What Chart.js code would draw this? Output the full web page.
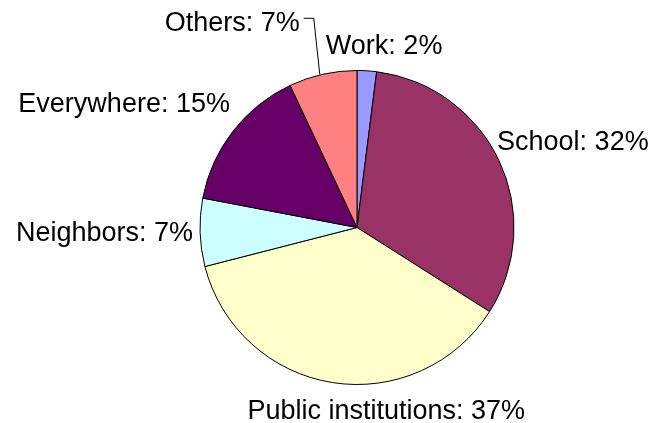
<!DOCTYPE html>
<html>
<head>
<meta charset="utf-8">
<script src="https://cdn.jsdelivr.net/npm/chart.js@4/dist/chart.umd.min.js"></script>
<style>
  html, body { margin: 0; padding: 0; background: #ffffff; }
  #wrap { width: 653px; height: 423px; position: relative; }
</style>
</head>
<body>
<div id="wrap"><canvas id="chart" width="653" height="423"></canvas></div>
<script>
// Where respondents reported it happening (percent of answers)
const places = ['Work', 'School', 'Public institutions', 'Neighbors', 'Everywhere', 'Others'];
const shares = [2, 32, 37, 7, 15, 7];
const sliceColors = ['#9999FF', '#993366', '#FFFFCC', '#CCFFFF', '#660066', '#FF8080'];

// Label placement relative to the point on the rim at each slice's middle angle
const labelPlacement = [
  { align: 'left',  dx: -41, dy: -17 },
  { align: 'left',  dx: -2,  dy: -11 },
  { align: 'left',  dx: -85, dy: 36 },
  { align: 'right', dx: -7,  dy: 9 },
  { align: 'right', dx: -3,  dy: -19 },
  { align: 'right', dx: -23, dy: -43, leader: true }
];

const outsideLabels = {
  id: 'outsideLabels',
  afterDatasetsDraw(chart) {
    const ctx = chart.ctx;
    const meta = chart.getDatasetMeta(0);
    ctx.save();
    ctx.font = '27px "Liberation Sans", Arial, sans-serif';
    ctx.fillStyle = '#000000';
    ctx.textBaseline = 'alphabetic';
    meta.data.forEach((arc, i) => {
      const mid = (arc.startAngle + arc.endAngle) / 2;
      const r = arc.outerRadius;
      const px = arc.x + Math.cos(mid) * r;
      const py = arc.y + Math.sin(mid) * r;
      const p = labelPlacement[i];
      const text = places[i] + ': ' + shares[i] + '%';
      const tx = px + p.dx;
      const ty = py + p.dy;
      ctx.textAlign = p.align;
      ctx.fillText(text, tx, ty);
      if (p.leader) {
        ctx.strokeStyle = '#000000';
        ctx.lineWidth = 1;
        ctx.beginPath();
        ctx.moveTo(tx + 4, ty - 13);
        ctx.lineTo(tx + 14, ty - 13);
        ctx.lineTo(px - 3, py);
        ctx.stroke();
      }
    });
    ctx.restore();
  }
};

new Chart(document.getElementById('chart'), {
  type: 'pie',
  data: {
    labels: places,
    datasets: [{
      data: shares,
      backgroundColor: sliceColors,
      borderColor: '#000000',
      borderWidth: 1
    }]
  },
  options: {
    responsive: false,
    animation: false,
    layout: { padding: { left: 199, right: 138, top: 70, bottom: 38 } },
    plugins: {
      legend: { display: false },
      tooltip: { enabled: false }
    }
  },
  plugins: [outsideLabels]
});
</script>
</body>
</html>
